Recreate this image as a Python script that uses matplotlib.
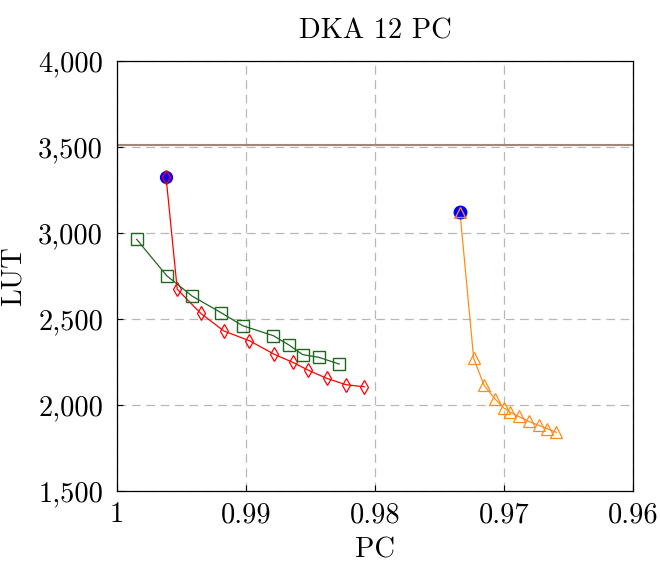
import matplotlib
matplotlib.use("Agg")
import matplotlib.pyplot as plt
from matplotlib.ticker import FuncFormatter

# red diamonds, first point is the highlighted one
red_pc = [0.99620, 0.99533, 0.99351, 0.99171, 0.98974, 0.98781, 0.98638,
          0.98519, 0.98374, 0.98225, 0.98083]
red_lut = [3327, 2673, 2533, 2430, 2374, 2295, 2248, 2203, 2155, 2118, 2106]

green_pc = [0.99847, 0.99615, 0.99419, 0.99194, 0.99026, 0.98788, 0.98667,
            0.98561, 0.98434, 0.98277]
green_lut = [2963, 2752, 2634, 2537, 2461, 2403, 2349, 2293, 2277, 2238]

orange_pc = [0.97341, 0.97235, 0.97155, 0.97072, 0.97002, 0.96951, 0.96887,
             0.96809, 0.96731, 0.96664, 0.96594]
orange_lut = [3120, 2271, 2116, 2037, 1983, 1958, 1934, 1905, 1882, 1862, 1841]

limit_lut = 3512

x_ticks = [1.0, 0.99, 0.98, 0.97, 0.96]
y_ticks = [1500, 2000, 2500, 3000, 3500, 4000]

plt.rcParams["font.family"] = "cmr10"
plt.rcParams["axes.formatter.use_mathtext"] = True

fig = plt.figure(figsize=(6.61, 5.62), dpi=100)
ax = fig.add_axes([0.177, 0.1263, 0.7806, 0.7652])

ax.axhline(limit_lut, color="#a08878", lw=1.5, zorder=2)

ax.plot(red_pc, red_lut, color="#ff0000", lw=0.9, marker="d", ms=7.5,
        mfc="none", mec="#ff0000", mew=0.9, zorder=3)
ax.plot(green_pc, green_lut, color="#1f661f", lw=0.9, marker="s", ms=8,
        mfc="none", mec="#1f661f", mew=1.0, zorder=3)
ax.plot(orange_pc, orange_lut, color="#ff8c1a", lw=0.9, marker="^", ms=8,
        mfc="none", mec="#ff8c1a", mew=0.9, zorder=3)

# highlighted starting points
ax.plot(red_pc[0], red_lut[0], "o", color="#0000ff", ms=8.5, zorder=4)
ax.plot(red_pc[0], red_lut[0], "d", mfc="none", mec="#ff0000", ms=7.5, mew=0.9, zorder=5)
ax.plot(orange_pc[0], orange_lut[0], "o", color="#0000ff", ms=9, zorder=4)
ax.plot(orange_pc[0], orange_lut[0], "^", mfc="none", mec="#ff8c1a", ms=7.5, mew=0.9, zorder=5)

ax.set_xlim(1.0, 0.96)
ax.set_ylim(1500, 4000)
ax.set_xticks(x_ticks)
ax.set_yticks(y_ticks)
ax.xaxis.set_major_formatter(FuncFormatter(lambda v, p: f"{v:g}"))
ax.yaxis.set_major_formatter(FuncFormatter(lambda v, p: f"{v:,.0f}"))
ax.tick_params(direction="in", length=4, width=0.8, labelsize=20.5)
ax.tick_params(axis="x", pad=8)
ax.tick_params(axis="y", pad=10)
ax.grid(True, color="#b8b8b8", ls=(0, (7, 4.5)), lw=0.9, zorder=1)
for s in ax.spines.values():
    s.set_linewidth(0.9)

ax.set_title("DKA 12 PC", fontsize=20.5, pad=16)
ax.set_xlabel("PC", fontsize=20.5, labelpad=6)
ax.set_ylabel("LUT", fontsize=20.5, labelpad=8)

fig.savefig("out.png", dpi=100)
